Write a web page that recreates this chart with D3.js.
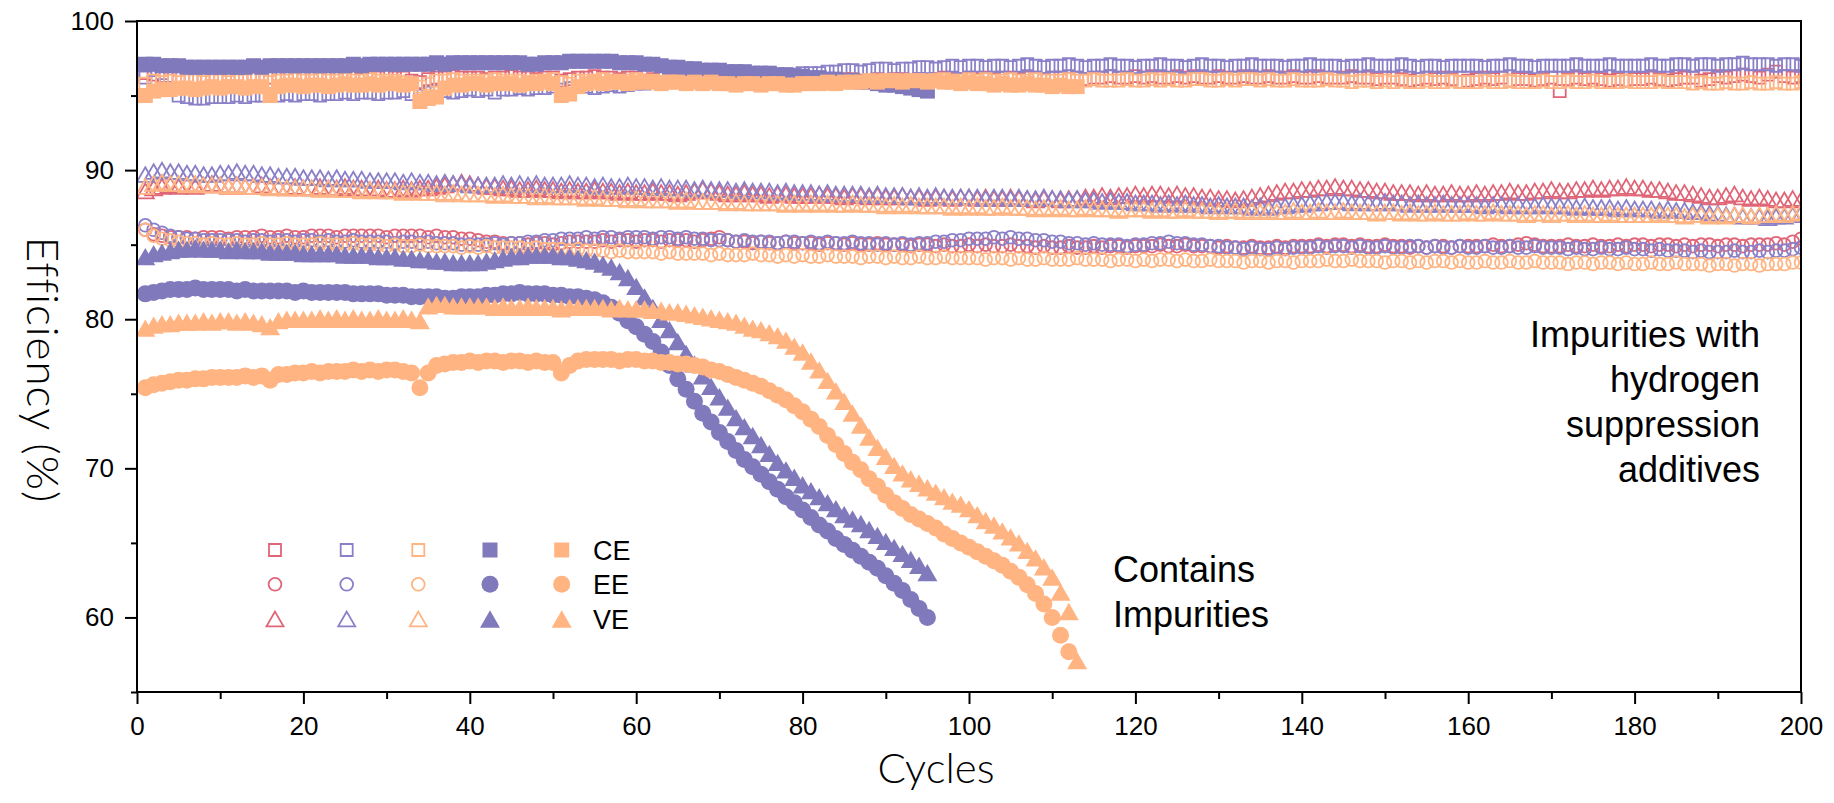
<!DOCTYPE html>
<html>
<head>
<meta charset="utf-8">
<script src="https://d3js.org/d3.v7.min.js"></script>
<style>
  body { margin: 0; background: #fff; }
  svg text { font-family: "Liberation Sans", Arial, sans-serif; fill: #000; }
  .title { font-family: "Lato", "Liberation Sans", sans-serif; font-weight: 300; }
</style>
</head>
<body>
<svg width="1834" height="803"></svg>
<script>
// ---- data (one value per cycle, starting at cycle 1) ----
// group 1: red open markers
var g1CE = [
  96.5, 96.4, 96.3, 96.3, 96.2, 96.3, 96.2, 96.2, 96.3, 96.2, 96.2, 96.3, 96.2, 96.2, 96.1, 96.2, 96.2, 96.3, 96.2, 96.2,
  96.2, 96.3, 96.2, 96.2, 96.3, 96.2, 96.1, 96.2, 96.2, 96.3, 96.2, 96.2, 96.0, 95.9, 96.1, 96.2, 96.2, 96.3, 96.2, 96.2,
  96.2, 96.1, 96.2, 96.2, 96.3, 96.2, 96.2, 96.1, 96.2, 96.2, 96.0, 96.1, 96.2, 96.2, 96.3, 96.2, 96.2, 96.1, 96.2, 96.2,
  96.0, 96.1, 96.2, 96.1, 96.0, 96.1, 96.0, 96.0, 96.1, 96.1, 96.0, 96.1, 96.0, 96.0, 95.9, 96.0, 96.1, 96.0, 96.0, 96.1,
  96.0, 96.0, 96.1, 96.0, 96.1, 96.1, 96.0, 96.0, 96.1, 96.0, 96.1, 96.1, 96.0, 96.1, 96.0, 96.1, 96.2, 96.1, 96.1, 96.2,
  96.1, 96.2, 96.1, 96.2, 96.2, 96.1, 96.2, 96.2, 96.1, 96.2, 96.2, 96.1, 96.2, 96.1, 96.2, 96.2, 96.3, 96.2, 96.2, 96.3,
  96.2, 96.3, 96.2, 96.2, 96.3, 96.2, 96.3, 96.2, 96.2, 96.3, 96.2, 96.2, 96.3, 96.2, 96.2, 96.3, 96.2, 96.2, 96.3, 96.2,
  96.2, 96.3, 96.2, 96.2, 96.2, 96.3, 96.2, 96.2, 96.1, 96.2, 96.2, 96.1, 96.0, 96.1, 96.2, 96.1, 96.2, 96.1, 95.9, 96.0,
  96.1, 96.2, 96.1, 96.2, 96.0, 96.1, 96.1, 96.0, 96.1, 96.2, 95.3, 96.1, 96.2, 96.1, 96.2, 96.1, 96.0, 96.1, 96.0, 96.1,
  96.1, 96.2, 96.1, 96.0, 96.1, 96.2, 96.2, 96.0, 96.1, 96.3, 96.2, 96.3, 96.4, 96.3, 96.2, 96.4, 96.6, 96.3, 96.2, 96.3
];
var g1EE = [
  86.0, 85.7, 85.6, 85.5, 85.5, 85.5, 85.4, 85.5, 85.5, 85.5, 85.4, 85.5, 85.5, 85.5, 85.6, 85.5, 85.5, 85.6, 85.5, 85.5,
  85.6, 85.6, 85.6, 85.5, 85.6, 85.6, 85.6, 85.6, 85.6, 85.5, 85.6, 85.6, 85.6, 85.6, 85.5, 85.6, 85.5, 85.5, 85.4, 85.4,
  85.3, 85.2, 85.2, 85.1, 85.1, 85.1, 85.0, 85.1, 85.1, 85.0, 85.1, 85.2, 85.2, 85.2, 85.2, 85.3, 85.2, 85.3, 85.3, 85.2,
  85.3, 85.3, 85.2, 85.3, 85.3, 85.3, 85.2, 85.3, 85.4, 85.5, 85.3, 85.2, 85.2, 85.1, 85.2, 85.1, 85.1, 85.2, 85.1, 85.1,
  85.1, 85.0, 85.1, 85.1, 85.0, 85.1, 85.0, 85.0, 85.1, 85.0, 85.0, 85.0, 84.9, 85.0, 85.0, 84.9, 85.0, 84.9, 84.9, 85.0,
  84.9, 85.0, 84.9, 84.9, 85.0, 84.9, 84.9, 84.8, 84.9, 84.8, 84.8, 84.9, 84.8, 84.8, 84.9, 84.8, 84.9, 84.9, 84.8, 84.9,
  84.9, 84.9, 85.0, 84.9, 84.9, 85.0, 84.9, 84.9, 84.9, 84.8, 84.9, 84.8, 84.8, 84.9, 84.8, 84.8, 84.9, 84.8, 84.9, 84.9,
  84.9, 85.0, 84.9, 85.0, 85.0, 84.9, 85.0, 84.9, 84.9, 85.0, 84.9, 84.9, 84.8, 84.9, 84.8, 84.9, 84.9, 84.8, 84.9, 84.9,
  84.9, 84.9, 85.0, 84.9, 84.9, 85.0, 85.1, 85.0, 84.9, 84.9, 84.9, 85.0, 84.9, 84.9, 85.0, 84.9, 84.9, 85.0, 84.9, 85.0,
  85.0, 84.9, 85.0, 85.0, 84.9, 85.0, 84.9, 85.0, 85.0, 84.9, 85.0, 85.0, 84.9, 85.0, 85.0, 85.0, 85.1, 85.0, 85.2, 85.4
];
var g1VE = [
  88.6, 88.8, 88.9, 89.0, 88.9, 89.0, 88.9, 89.0, 89.1, 89.0, 88.9, 89.0, 88.9, 88.9, 89.0, 88.9, 88.9, 88.8, 88.9, 88.8,
  88.8, 88.9, 88.8, 88.8, 88.9, 88.8, 88.8, 88.7, 88.8, 88.7, 88.7, 88.8, 88.7, 88.8, 88.8, 88.9, 89.0, 89.1, 89.2, 89.1,
  89.0, 88.9, 88.9, 88.8, 88.8, 88.7, 88.7, 88.8, 88.7, 88.7, 88.6, 88.7, 88.6, 88.6, 88.7, 88.6, 88.6, 88.5, 88.6, 88.5,
  88.5, 88.6, 88.5, 88.5, 88.4, 88.5, 88.6, 88.7, 88.6, 88.5, 88.4, 88.4, 88.5, 88.4, 88.4, 88.3, 88.4, 88.4, 88.3, 88.3,
  88.3, 88.4, 88.3, 88.3, 88.2, 88.3, 88.3, 88.2, 88.3, 88.2, 88.2, 88.3, 88.2, 88.2, 88.1, 88.2, 88.2, 88.1, 88.2, 88.2,
  88.1, 88.2, 88.1, 88.1, 88.2, 88.1, 88.1, 88.0, 88.1, 88.1, 88.0, 88.1, 88.1, 88.2, 88.2, 88.3, 88.2, 88.3, 88.3, 88.4,
  88.3, 88.4, 88.4, 88.3, 88.4, 88.3, 88.3, 88.2, 88.2, 88.1, 88.1, 88.0, 88.1, 88.2, 88.3, 88.4, 88.5, 88.6, 88.6, 88.7,
  88.7, 88.8, 88.8, 88.9, 88.8, 88.8, 88.7, 88.7, 88.6, 88.6, 88.5, 88.5, 88.5, 88.4, 88.5, 88.4, 88.4, 88.5, 88.4, 88.4,
  88.5, 88.4, 88.5, 88.5, 88.6, 88.5, 88.5, 88.6, 88.6, 88.7, 88.6, 88.6, 88.7, 88.7, 88.8, 88.7, 88.8, 88.8, 88.9, 88.8,
  88.8, 88.7, 88.7, 88.6, 88.5, 88.5, 88.4, 88.3, 88.2, 88.2, 88.3, 88.4, 88.2, 88.1, 88.2, 88.1, 88.0, 88.0, 88.1, 88.0
];

// group 2: purple open markers
var g2CE = [
  96.2, 95.9, 95.7, 95.5, 95.0, 94.9, 94.8, 94.8, 94.9, 94.9, 94.9, 95.0, 94.9, 95.0, 95.0, 95.1, 95.0, 95.1, 95.0, 95.1,
  95.1, 95.0, 95.1, 95.1, 95.2, 95.1, 95.2, 95.2, 95.1, 95.2, 95.2, 95.3, 95.1, 95.0, 95.2, 95.3, 95.3, 95.2, 95.3, 95.4,
  95.3, 95.4, 95.2, 95.4, 95.4, 95.5, 95.4, 95.5, 95.5, 95.6, 95.4, 95.5, 95.6, 95.6, 95.5, 95.6, 95.7, 95.6, 95.7, 95.8,
  95.8, 95.9, 95.8, 95.9, 96.0, 96.0, 96.1, 96.0, 96.1, 96.2, 96.2, 96.1, 96.2, 96.3, 96.3, 96.2, 96.3, 96.4, 96.4, 96.5,
  96.5, 96.5, 96.6, 96.6, 96.7, 96.7, 96.6, 96.7, 96.8, 96.8, 96.7, 96.8, 96.8, 96.9, 96.9, 96.8, 96.9, 97.0, 96.9, 97.0,
  97.0, 96.9, 97.0, 97.0, 96.9, 97.0, 97.1, 97.0, 96.9, 97.0, 97.0, 97.1, 97.0, 96.9, 97.0, 97.0, 97.1, 97.0, 97.0, 96.9,
  97.0, 97.0, 97.1, 97.0, 97.0, 96.9, 97.0, 97.1, 97.0, 97.0, 96.9, 97.0, 97.0, 97.1, 97.0, 97.0, 97.0, 96.9, 97.0, 97.0,
  97.1, 97.0, 97.0, 97.0, 96.9, 97.0, 97.0, 97.1, 97.0, 97.0, 97.0, 97.1, 97.0, 96.9, 97.0, 97.0, 96.9, 97.0, 97.0, 97.0,
  97.0, 96.9, 97.0, 97.0, 97.1, 97.0, 97.0, 96.9, 97.0, 97.0, 97.0, 97.0, 97.1, 97.0, 97.0, 97.0, 97.1, 97.0, 97.0, 97.0,
  97.0, 97.1, 97.0, 97.0, 97.1, 97.1, 97.0, 97.1, 97.1, 97.0, 97.1, 97.1, 97.2, 97.1, 97.1, 97.1, 97.0, 97.1, 97.1, 97.0
];
var g2EE = [
  86.3, 86.0, 85.8, 85.6, 85.5, 85.4, 85.4, 85.3, 85.3, 85.3, 85.3, 85.3, 85.2, 85.3, 85.3, 85.2, 85.3, 85.3, 85.2, 85.3,
  85.3, 85.2, 85.3, 85.2, 85.2, 85.3, 85.2, 85.2, 85.2, 85.2, 85.1, 85.2, 85.2, 85.1, 85.2, 85.1, 85.1, 85.1, 85.0, 85.0,
  85.0, 85.0, 85.1, 85.0, 85.1, 85.1, 85.2, 85.2, 85.3, 85.3, 85.4, 85.4, 85.4, 85.5, 85.4, 85.5, 85.5, 85.4, 85.5, 85.5,
  85.5, 85.4, 85.5, 85.5, 85.4, 85.5, 85.4, 85.4, 85.3, 85.3, 85.3, 85.2, 85.3, 85.2, 85.2, 85.2, 85.1, 85.2, 85.2, 85.1,
  85.2, 85.1, 85.2, 85.1, 85.1, 85.2, 85.1, 85.1, 85.0, 85.1, 85.0, 85.1, 85.0, 85.1, 85.1, 85.2, 85.2, 85.3, 85.3, 85.4,
  85.4, 85.4, 85.5, 85.4, 85.5, 85.4, 85.4, 85.3, 85.3, 85.2, 85.2, 85.1, 85.1, 85.0, 85.1, 85.0, 85.0, 85.0, 84.9, 85.0,
  85.0, 85.1, 85.1, 85.2, 85.1, 85.1, 85.0, 85.0, 84.9, 84.9, 84.8, 84.8, 84.7, 84.8, 84.7, 84.7, 84.8, 84.7, 84.8, 84.8,
  84.8, 84.9, 84.8, 84.9, 84.9, 84.8, 84.9, 84.8, 84.8, 84.9, 84.8, 84.8, 84.9, 84.9, 84.8, 84.9, 84.8, 84.8, 84.9, 84.8,
  84.8, 84.9, 84.8, 84.8, 84.9, 84.8, 84.8, 84.9, 84.8, 84.8, 84.8, 84.7, 84.8, 84.7, 84.7, 84.8, 84.7, 84.7, 84.8, 84.7,
  84.7, 84.6, 84.7, 84.6, 84.6, 84.6, 84.5, 84.6, 84.5, 84.5, 84.5, 84.6, 84.5, 84.5, 84.6, 84.5, 84.6, 84.6, 84.7, 84.8
];
var g2VE = [
  89.7, 89.9, 90.0, 89.9, 89.9, 89.8, 89.8, 89.7, 89.7, 89.8, 89.8, 89.9, 89.8, 89.8, 89.7, 89.7, 89.6, 89.6, 89.6, 89.5,
  89.5, 89.5, 89.4, 89.5, 89.4, 89.4, 89.4, 89.3, 89.3, 89.3, 89.3, 89.2, 89.3, 89.2, 89.2, 89.1, 89.2, 89.1, 89.1, 89.0,
  89.0, 89.0, 89.0, 89.1, 89.0, 89.1, 89.0, 89.1, 89.0, 89.0, 89.0, 89.1, 89.0, 89.0, 88.9, 89.0, 88.9, 88.9, 89.0, 88.9,
  88.9, 88.8, 88.9, 88.8, 88.8, 88.8, 88.7, 88.8, 88.7, 88.7, 88.7, 88.6, 88.7, 88.6, 88.6, 88.6, 88.5, 88.6, 88.5, 88.5,
  88.5, 88.4, 88.5, 88.4, 88.4, 88.4, 88.4, 88.3, 88.4, 88.3, 88.3, 88.3, 88.2, 88.3, 88.2, 88.3, 88.2, 88.2, 88.2, 88.2,
  88.2, 88.1, 88.2, 88.2, 88.1, 88.2, 88.1, 88.1, 88.2, 88.1, 88.1, 88.0, 88.1, 88.0, 88.0, 87.9, 88.0, 87.9, 87.9, 87.8,
  87.8, 87.8, 87.7, 87.8, 87.7, 87.8, 87.7, 87.7, 87.6, 87.7, 87.6, 87.6, 87.6, 87.5, 87.6, 87.5, 87.6, 87.6, 87.7, 87.7,
  87.8, 87.8, 87.9, 87.9, 87.9, 87.8, 87.9, 87.8, 87.8, 87.9, 87.8, 87.8, 87.7, 87.8, 87.7, 87.7, 87.8, 87.7, 87.7, 87.7,
  87.7, 87.6, 87.7, 87.7, 87.6, 87.7, 87.6, 87.6, 87.7, 87.6, 87.6, 87.6, 87.5, 87.6, 87.5, 87.5, 87.5, 87.4, 87.5, 87.4,
  87.4, 87.4, 87.3, 87.4, 87.3, 87.3, 87.2, 87.2, 87.1, 87.1, 87.0, 87.0, 86.9, 86.9, 86.9, 86.8, 86.9, 86.9, 87.0, 87.1
];

// group 3: orange open markers
var g3CE = [
  95.8, 96.0, 95.9, 96.0, 95.9, 96.0, 96.0, 95.9, 96.0, 96.0, 95.9, 96.0, 96.0, 96.1, 96.0, 95.9, 96.0, 96.0, 96.1, 96.0,
  96.0, 96.1, 96.0, 96.0, 96.1, 96.0, 96.0, 96.1, 96.0, 96.0, 96.0, 95.9, 95.8, 95.6, 95.8, 96.0, 96.0, 96.1, 96.0, 96.0,
  96.0, 96.0, 96.1, 96.0, 96.0, 96.0, 95.9, 96.0, 96.0, 96.1, 95.9, 95.8, 96.0, 96.0, 96.0, 96.1, 96.0, 96.0, 96.0, 96.1,
  96.0, 96.0, 95.9, 96.0, 96.0, 95.9, 95.9, 96.0, 95.9, 95.9, 95.8, 95.9, 95.9, 95.8, 95.9, 95.9, 95.8, 95.9, 95.8, 95.9,
  95.9, 95.9, 95.8, 95.9, 95.9, 96.0, 95.9, 95.9, 96.0, 95.9, 96.0, 96.0, 95.9, 96.0, 96.0, 96.0, 96.1, 96.0, 96.0, 96.1,
  96.0, 96.1, 96.0, 96.0, 96.1, 96.0, 96.0, 96.1, 96.0, 96.0, 96.0, 96.1, 96.0, 96.0, 96.1, 96.0, 96.0, 96.0, 96.1, 96.0,
  96.0, 96.1, 96.0, 96.1, 96.0, 96.0, 96.1, 96.1, 96.0, 96.0, 96.1, 96.0, 96.1, 96.1, 96.0, 96.1, 96.0, 96.0, 96.1, 96.0,
  96.0, 96.0, 96.1, 96.0, 96.0, 95.9, 96.0, 96.0, 95.9, 96.0, 95.9, 96.0, 95.9, 95.9, 96.0, 95.9, 95.9, 96.0, 95.9, 95.9,
  95.9, 96.0, 95.9, 95.9, 96.0, 95.9, 95.9, 95.9, 96.0, 95.9, 95.9, 96.0, 95.9, 95.9, 96.0, 95.9, 95.9, 95.9, 96.0, 95.9,
  95.9, 95.9, 96.0, 95.9, 95.9, 95.9, 95.8, 95.9, 95.8, 95.8, 95.9, 95.8, 95.8, 95.9, 95.8, 95.8, 95.9, 95.8, 95.8, 95.9
];
var g3EE = [
  86.0, 85.6, 85.4, 85.3, 85.2, 85.1, 85.1, 85.0, 85.1, 85.0, 85.0, 85.1, 85.0, 85.0, 85.1, 85.0, 85.0, 85.1, 85.0, 85.0,
  85.0, 85.1, 85.0, 85.0, 85.0, 85.1, 85.0, 85.0, 85.0, 84.9, 85.0, 84.9, 84.9, 85.0, 84.9, 84.9, 84.9, 84.9, 84.8, 84.9,
  84.8, 84.9, 84.8, 84.8, 84.8, 84.8, 84.7, 84.8, 84.7, 84.7, 84.7, 84.6, 84.7, 84.6, 84.6, 84.6, 84.5, 84.6, 84.5, 84.5,
  84.5, 84.5, 84.4, 84.5, 84.4, 84.4, 84.4, 84.4, 84.3, 84.4, 84.3, 84.3, 84.3, 84.4, 84.3, 84.3, 84.2, 84.3, 84.2, 84.3,
  84.2, 84.2, 84.3, 84.2, 84.2, 84.2, 84.1, 84.2, 84.2, 84.1, 84.2, 84.1, 84.1, 84.2, 84.1, 84.1, 84.2, 84.1, 84.1, 84.1,
  84.1, 84.0, 84.1, 84.1, 84.0, 84.1, 84.0, 84.0, 84.1, 84.0, 84.0, 84.0, 84.1, 84.0, 84.0, 84.0, 83.9, 84.0, 84.0, 83.9,
  84.0, 83.9, 84.0, 84.0, 83.9, 84.0, 83.9, 83.9, 84.0, 83.9, 83.9, 83.9, 83.8, 83.9, 83.9, 83.8, 83.9, 83.9, 83.8, 83.9,
  83.9, 83.9, 84.0, 83.9, 83.9, 84.0, 83.9, 83.9, 83.9, 83.8, 83.9, 83.9, 83.8, 83.9, 83.8, 83.9, 83.9, 83.8, 83.9, 83.8,
  83.8, 83.9, 83.8, 83.8, 83.9, 83.8, 83.8, 83.9, 83.8, 83.8, 83.8, 83.7, 83.8, 83.8, 83.7, 83.8, 83.8, 83.7, 83.8, 83.7,
  83.7, 83.8, 83.7, 83.7, 83.8, 83.7, 83.7, 83.7, 83.6, 83.7, 83.7, 83.6, 83.7, 83.7, 83.6, 83.7, 83.7, 83.7, 83.8, 83.8
];
var g3VE = [
  88.9, 89.1, 89.2, 89.1, 89.1, 89.0, 89.1, 89.0, 89.0, 89.0, 88.9, 89.0, 88.9, 88.9, 88.9, 88.8, 88.9, 88.8, 88.8, 88.8,
  88.8, 88.7, 88.8, 88.7, 88.7, 88.7, 88.6, 88.7, 88.6, 88.6, 88.6, 88.5, 88.6, 88.5, 88.5, 88.5, 88.4, 88.5, 88.4, 88.4,
  88.4, 88.4, 88.3, 88.4, 88.3, 88.3, 88.3, 88.2, 88.3, 88.2, 88.2, 88.2, 88.2, 88.1, 88.2, 88.1, 88.1, 88.1, 88.0, 88.1,
  88.0, 88.0, 88.0, 88.0, 87.9, 88.0, 87.9, 87.9, 87.9, 87.9, 87.8, 87.9, 87.8, 87.8, 87.8, 87.8, 87.8, 87.7, 87.8, 87.7,
  87.8, 87.7, 87.8, 87.7, 87.7, 87.8, 87.7, 87.7, 87.7, 87.6, 87.7, 87.6, 87.7, 87.6, 87.6, 87.6, 87.6, 87.5, 87.6, 87.5,
  87.6, 87.5, 87.5, 87.6, 87.5, 87.5, 87.5, 87.4, 87.5, 87.4, 87.5, 87.4, 87.4, 87.5, 87.4, 87.4, 87.4, 87.3, 87.4, 87.4,
  87.4, 87.3, 87.4, 87.3, 87.3, 87.4, 87.3, 87.3, 87.3, 87.2, 87.3, 87.3, 87.2, 87.3, 87.2, 87.3, 87.2, 87.2, 87.3, 87.2,
  87.2, 87.3, 87.2, 87.2, 87.3, 87.2, 87.2, 87.2, 87.1, 87.2, 87.2, 87.1, 87.2, 87.1, 87.1, 87.2, 87.1, 87.1, 87.1, 87.2,
  87.1, 87.1, 87.2, 87.1, 87.1, 87.1, 87.0, 87.1, 87.1, 87.0, 87.1, 87.1, 87.0, 87.1, 87.0, 87.0, 87.1, 87.0, 87.0, 87.0,
  87.0, 87.0, 87.1, 87.0, 87.0, 86.9, 87.0, 87.0, 86.9, 87.0, 86.9, 87.0, 87.0, 86.9, 87.0, 87.0, 87.1, 87.0, 87.1, 87.2
];

// group 4: purple filled markers (contains impurities)
var g4CE = [
  97.1, 97.1, 97.0, 97.0, 97.0, 96.9, 96.9, 96.9, 96.9, 96.9, 96.9, 96.9, 96.9, 97.0, 96.9, 97.0, 97.0, 97.0, 97.0, 97.0,
  97.0, 97.0, 97.0, 97.0, 97.0, 97.1, 97.0, 97.1, 97.1, 97.1, 97.1, 97.1, 97.1, 97.1, 97.1, 97.2, 97.1, 97.2, 97.2, 97.2,
  97.2, 97.2, 97.2, 97.2, 97.2, 97.2, 97.1, 97.1, 97.2, 97.2, 97.2, 97.3, 97.3, 97.3, 97.3, 97.3, 97.3, 97.2, 97.2, 97.2,
  97.1, 97.1, 97.0, 96.9, 96.9, 96.8, 96.8, 96.7, 96.7, 96.7, 96.6, 96.6, 96.6, 96.5, 96.5, 96.5, 96.4, 96.4, 96.3, 96.3,
  96.2, 96.2, 96.1, 96.1, 96.0, 96.0, 95.9, 95.9, 95.8, 95.7, 95.7, 95.6, 95.5, 95.4, 95.3
];
var g4EE = [
  81.7, 81.8, 81.9, 82.0, 82.0, 82.0, 82.1, 82.0, 82.0, 82.0, 82.0, 81.9, 82.0, 81.9, 81.9, 81.9, 81.9, 81.9, 81.8, 81.9,
  81.8, 81.8, 81.8, 81.8, 81.8, 81.7, 81.7, 81.7, 81.7, 81.6, 81.6, 81.6, 81.5, 81.5, 81.5, 81.5, 81.4, 81.4, 81.5, 81.5,
  81.5, 81.6, 81.6, 81.7, 81.7, 81.8, 81.7, 81.7, 81.7, 81.6, 81.6, 81.5, 81.5, 81.4, 81.3, 81.1, 80.8, 80.4, 79.9, 79.5,
  79.0, 78.5, 77.8, 76.9, 76.0, 75.3, 74.5, 73.7, 73.1, 72.4, 71.8, 71.2, 70.6, 70.1, 69.6, 69.1, 68.6, 68.1, 67.7, 67.2,
  66.7, 66.2, 65.8, 65.3, 64.9, 64.5, 64.1, 63.7, 63.3, 62.8, 62.3, 61.8, 61.2, 60.6, 60.0
];
var g4VE = [
  84.2, 84.4, 84.5, 84.6, 84.7, 84.7, 84.8, 84.7, 84.7, 84.7, 84.6, 84.7, 84.6, 84.6, 84.6, 84.5, 84.5, 84.5, 84.5, 84.4,
  84.4, 84.4, 84.4, 84.4, 84.3, 84.3, 84.3, 84.3, 84.2, 84.2, 84.2, 84.1, 84.1, 84.0, 84.0, 83.9, 83.9, 83.8, 83.8, 83.8,
  83.8, 83.9, 84.0, 84.1, 84.2, 84.2, 84.3, 84.3, 84.3, 84.3, 84.2, 84.2, 84.1, 84.0, 83.9, 83.7, 83.5, 83.2, 82.8, 82.2,
  81.5, 80.8, 80.0, 79.3, 78.5, 77.7, 77.0, 76.2, 75.5, 74.8, 74.1, 73.4, 72.8, 72.2, 71.6, 71.0, 70.4, 69.9, 69.4, 68.9,
  68.5, 68.1, 67.7, 67.3, 66.9, 66.6, 66.3, 65.9, 65.5, 65.1, 64.7, 64.3, 63.9, 63.5, 63.0
];

// group 5: orange filled markers (contains impurities)
var g5CE = [
  95.0, 95.3, 95.4, 95.4, 95.5, 95.5, 95.4, 95.5, 95.6, 95.5, 95.6, 95.6, 95.5, 95.6, 95.6, 95.0, 95.6, 95.7, 95.7, 95.6,
  95.7, 95.7, 95.6, 95.7, 95.8, 95.7, 95.7, 95.8, 95.7, 95.8, 95.8, 95.7, 95.8, 94.6, 94.8, 94.9, 95.5, 95.7, 95.7, 95.8,
  95.8, 95.7, 95.8, 95.8, 95.8, 95.7, 95.8, 95.8, 95.9, 95.8, 95.0, 95.1, 95.6, 95.8, 95.9, 95.8, 95.9, 95.9, 95.8, 95.9,
  95.9, 95.9, 95.8, 95.9, 95.9, 95.8, 95.9, 95.8, 95.9, 95.8, 95.8, 95.7, 95.8, 95.8, 95.7, 95.8, 95.8, 95.7, 95.7, 95.8,
  95.8, 95.8, 95.9, 95.8, 95.9, 95.9, 95.9, 96.0, 95.9, 96.0, 96.0, 95.9, 96.0, 96.0, 95.9, 96.0, 95.9, 95.9, 95.8, 95.9,
  95.8, 95.8, 95.7, 95.8, 95.7, 95.7, 95.8, 95.7, 95.7, 95.6, 95.7, 95.6, 95.6
];
var g5EE = [
  75.4, 75.6, 75.7, 75.8, 75.9, 75.9, 76.0, 76.0, 76.1, 76.1, 76.1, 76.1, 76.2, 76.1, 76.2, 75.9, 76.3, 76.3, 76.4, 76.4,
  76.5, 76.4, 76.5, 76.5, 76.5, 76.6, 76.5, 76.6, 76.5, 76.6, 76.6, 76.5, 76.4, 75.4, 76.4, 76.9, 77.0, 77.1, 77.1, 77.2,
  77.1, 77.2, 77.2, 77.1, 77.2, 77.2, 77.1, 77.2, 77.1, 77.1, 76.4, 76.9, 77.2, 77.3, 77.3, 77.3, 77.3, 77.2, 77.3, 77.3,
  77.2, 77.2, 77.1, 77.1, 77.0, 77.0, 76.9, 76.8, 76.6, 76.5, 76.3, 76.1, 75.9, 75.7, 75.5, 75.2, 74.9, 74.6, 74.2, 73.8,
  73.3, 72.8, 72.2, 71.6, 71.0, 70.4, 69.9, 69.3, 68.8, 68.2, 67.7, 67.3, 66.9, 66.6, 66.3, 66.0, 65.6, 65.3, 65.0, 64.7,
  64.4, 64.1, 63.8, 63.5, 63.1, 62.7, 62.2, 61.6, 60.9, 60.0, 58.8, 57.7
];
var g5VE = [
  79.4, 79.6, 79.7, 79.7, 79.8, 79.8, 79.8, 79.9, 79.8, 79.9, 79.9, 79.8, 79.9, 79.8, 79.7, 79.5, 79.9, 80.0, 80.0, 80.0,
  80.0, 80.1, 80.0, 80.1, 80.0, 80.1, 80.0, 80.0, 80.1, 80.0, 80.0, 80.1, 80.0, 79.9, 80.9, 81.0, 81.0, 80.9, 80.9, 80.9,
  80.9, 80.9, 80.8, 80.9, 80.8, 80.8, 80.9, 80.8, 80.8, 80.8, 80.7, 80.8, 80.8, 80.8, 80.8, 80.8, 80.7, 80.8, 80.7, 80.7,
  80.7, 80.6, 80.6, 80.5, 80.5, 80.4, 80.3, 80.2, 80.1, 80.0, 79.9, 79.8, 79.6, 79.4, 79.3, 79.1, 78.9, 78.6, 78.2, 77.8,
  77.2, 76.6, 75.9, 75.2, 74.5, 73.7, 72.9, 72.1, 71.4, 70.8, 70.2, 69.7, 69.3, 69.0, 68.7, 68.4, 68.1, 67.8, 67.6, 67.3,
  66.9, 66.5, 66.2, 65.8, 65.4, 65.0, 64.5, 64.0, 63.4, 62.7, 61.7, 60.4, 57.1
];

var metrics = ["CE", "EE", "VE"];
var xTicks = [0, 20, 40, 60, 80, 100, 120, 140, 160, 180, 200];
var xMinor = [10, 30, 50, 70, 90, 110, 130, 150, 170, 190];
var yTicks = [60, 70, 80, 90, 100];
var yMinor = [55, 65, 75, 85, 95];
var noteRight = ["Impurities with", "hydrogen", "suppression", "additives"];
var noteLeft = ["Contains", "Impurities"];

// ---- styling ----
var groups = [
  { color: "#DF6577", filled: false, series: [g1CE, g1EE, g1VE] },
  { color: "#8A80C8", filled: false, series: [g2CE, g2EE, g2VE] },
  { color: "#FFB482", filled: false, series: [g3CE, g3EE, g3VE] },
  { color: "#8079BC", filled: true, series: [g4CE, g4EE, g4VE] },
  { color: "#FFB482", filled: true, series: [g5CE, g5EE, g5VE] }
];

var svg = d3.select("svg");
var L = 137, R = 1801, T = 21, B = 692;

var x = d3.scaleLinear().domain([0, 200]).range([L, R]);
var y = d3.scaleLinear().domain([55, 100]).range([B, T]);

// triangle centred on its bounding box, size = width^2
var triangle = {
  draw: function (ctx, size) {
    var w = Math.sqrt(size), h = w * 0.866;
    ctx.moveTo(0, -h / 2);
    ctx.lineTo(w / 2, h / 2);
    ctx.lineTo(-w / 2, h / 2);
    ctx.closePath();
  }
};

function markerPath(metric, filled) {
  if (metric === 0) {
    var s = filled ? 15 : 12;
    return d3.symbol().type(d3.symbolSquare).size(s * s)();
  }
  if (metric === 1) {
    var r = filled ? 8.5 : 6.4;
    return d3.symbol().type(d3.symbolCircle).size(Math.PI * r * r)();
  }
  var w = filled ? 20 : 17;
  return d3.symbol().type(triangle).size(w * w)();
}

function styleMarker(sel, g) {
  if (g.filled) {
    sel.attr("fill", g.color).attr("stroke", "none");
  } else {
    sel.attr("fill", "none").attr("stroke", g.color).attr("stroke-width", 1.8);
  }
}

svg.append("clipPath").attr("id", "plotclip")
  .append("rect").attr("x", L).attr("y", T).attr("width", R - L).attr("height", B - T);

var plot = svg.append("g").attr("clip-path", "url(#plotclip)");

groups.forEach(function (g) {
  g.series.forEach(function (vals, m) {
    var d = markerPath(m, g.filled);
    var pts = plot.append("g").selectAll("path")
      .data(vals)
      .enter()
      .append("path")
      .attr("d", d)
      .attr("transform", function (v, i) {
        return "translate(" + x(i + 1) + "," + y(v) + ")";
      });
    styleMarker(pts, g);
  });
});

// ---- axes ----
function tidy(ax) {
  ax.select(".domain").remove();
  ax.selectAll("line").attr("stroke", "#000").attr("stroke-width", 2);
  ax.selectAll("text").style("font-size", "26px").style("font-family", "'Liberation Sans', Arial, sans-serif").attr("fill", "#000");
}

svg.append("g").attr("transform", "translate(0," + B + ")")
  .call(d3.axisBottom(x).tickValues(xTicks).tickSize(12).tickPadding(13).tickSizeOuter(0))
  .call(tidy);
svg.append("g").attr("transform", "translate(0," + B + ")")
  .call(d3.axisBottom(x).tickValues(xMinor).tickSize(7).tickFormat("").tickSizeOuter(0))
  .call(tidy);
svg.append("g").attr("transform", "translate(" + L + ",0)")
  .call(d3.axisLeft(y).tickValues(yTicks).tickSize(12).tickPadding(11).tickSizeOuter(0))
  .call(tidy);
svg.append("g").attr("transform", "translate(" + L + ",0)")
  .call(d3.axisLeft(y).tickValues(yMinor).tickSize(6).tickFormat("").tickSizeOuter(0))
  .call(tidy);

svg.append("rect")
  .attr("x", L).attr("y", T).attr("width", R - L).attr("height", B - T)
  .attr("fill", "none").attr("stroke", "#000").attr("stroke-width", 2);

// axis titles
svg.append("text").attr("class", "title")
  .attr("x", 936).attr("y", 783)
  .attr("text-anchor", "middle")
  .style("font-size", "42px")
  .text("Cycles");

svg.append("text").attr("class", "title")
  .attr("transform", "translate(27,370)rotate(90)")
  .attr("text-anchor", "middle")
  .style("font-size", "44px")
  .style("letter-spacing", "1px")
  .text("Efficiency (%)");

// ---- legend ----
var legX = [275, 346.7, 418.3, 490, 561.7];
var legY = [550, 584.3, 619];
var leg = svg.append("g");
groups.forEach(function (g, gi) {
  metrics.forEach(function (name, m) {
    var p = leg.append("path")
      .attr("d", markerPath(m, g.filled))
      .attr("transform", "translate(" + legX[gi] + "," + legY[m] + ")");
    styleMarker(p, g);
  });
});
metrics.forEach(function (name, m) {
  leg.append("text")
    .attr("x", 593).attr("y", legY[m] + 9.8)
    .style("font-size", "27px")
    .text(name);
});

// ---- annotations ----
svg.append("g").selectAll("text")
  .data(noteLeft).enter().append("text")
  .attr("x", 1113)
  .attr("y", function (d, i) { return 582 + i * 45; })
  .style("font-size", "36px")
  .text(function (d) { return d; });

svg.append("g").selectAll("text")
  .data(noteRight).enter().append("text")
  .attr("x", 1760)
  .attr("y", function (d, i) { return 347 + i * 45; })
  .attr("text-anchor", "end")
  .style("font-size", "36px")
  .text(function (d) { return d; });
</script>
</body>
</html>
